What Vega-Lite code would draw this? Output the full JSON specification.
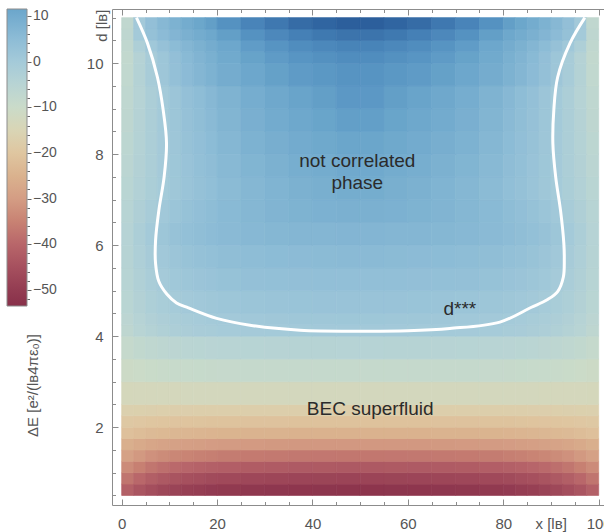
{
"$schema":"https://vega.github.io/schema/vega-lite/v6.json",
"width":492,"height":496,
"autosize":{"type":"none"},
"padding":{"left":112,"top":9,"right":0,"bottom":27},
"background":"white",
"config":{"view":{"stroke":null},"font":"Liberation Sans"},
"datasets":{
"grid":[
{"x":0,"x2":2.5,"d":0.5,"d2":0.75,"v":-41.4},{"x":2.5,"x2":5,"d":0.5,"d2":0.75,"v":-43.8},{"x":5,"x2":7.5,"d":0.5,"d2":0.75,"v":-45.6},{"x":7.5,"x2":10,"d":0.5,"d2":0.75,"v":-47},{"x":10,"x2":12.5,"d":0.5,"d2":0.75,"v":-48.1},{"x":12.5,"x2":15,"d":0.5,"d2":0.75,"v":-49},{"x":15,"x2":17.5,"d":0.5,"d2":0.75,"v":-49.6},{"x":17.5,"x2":20,"d":0.5,"d2":0.75,"v":-50.2},{"x":20,"x2":25,"d":0.5,"d2":0.75,"v":-50.7},{"x":25,"x2":30,"d":0.5,"d2":0.75,"v":-51.2},{"x":30,"x2":35,"d":0.5,"d2":0.75,"v":-51.5},{"x":35,"x2":40,"d":0.5,"d2":0.75,"v":-51.7},{"x":40,"x2":45,"d":0.5,"d2":0.75,"v":-51.8},{"x":45,"x2":50,"d":0.5,"d2":0.75,"v":-52},{"x":50,"x2":55,"d":0.5,"d2":0.75,"v":-52},{"x":55,"x2":60,"d":0.5,"d2":0.75,"v":-51.8},{"x":60,"x2":65,"d":0.5,"d2":0.75,"v":-51.7},{"x":65,"x2":70,"d":0.5,"d2":0.75,"v":-51.5},{"x":70,"x2":75,"d":0.5,"d2":0.75,"v":-51.2},{"x":75,"x2":80,"d":0.5,"d2":0.75,"v":-50.7},{"x":80,"x2":82.5,"d":0.5,"d2":0.75,"v":-50.2},{"x":82.5,"x2":85,"d":0.5,"d2":0.75,"v":-49.6},{"x":85,"x2":87.5,"d":0.5,"d2":0.75,"v":-49},{"x":87.5,"x2":90,"d":0.5,"d2":0.75,"v":-48.1},{"x":90,"x2":92.5,"d":0.5,"d2":0.75,"v":-47},{"x":92.5,"x2":95,"d":0.5,"d2":0.75,"v":-45.6},{"x":95,"x2":97.5,"d":0.5,"d2":0.75,"v":-43.8},{"x":97.5,"x2":100,"d":0.5,"d2":0.75,"v":-41.4},
{"x":0,"x2":2.5,"d":0.75,"d2":1,"v":-37.4},{"x":2.5,"x2":5,"d":0.75,"d2":1,"v":-39.8},{"x":5,"x2":7.5,"d":0.75,"d2":1,"v":-41.6},{"x":7.5,"x2":10,"d":0.75,"d2":1,"v":-43},{"x":10,"x2":12.5,"d":0.75,"d2":1,"v":-44.1},{"x":12.5,"x2":15,"d":0.75,"d2":1,"v":-45},{"x":15,"x2":17.5,"d":0.75,"d2":1,"v":-45.6},{"x":17.5,"x2":20,"d":0.75,"d2":1,"v":-46.2},{"x":20,"x2":25,"d":0.75,"d2":1,"v":-46.7},{"x":25,"x2":30,"d":0.75,"d2":1,"v":-47.2},{"x":30,"x2":35,"d":0.75,"d2":1,"v":-47.5},{"x":35,"x2":40,"d":0.75,"d2":1,"v":-47.7},{"x":40,"x2":45,"d":0.75,"d2":1,"v":-47.8},{"x":45,"x2":50,"d":0.75,"d2":1,"v":-48},{"x":50,"x2":55,"d":0.75,"d2":1,"v":-48},{"x":55,"x2":60,"d":0.75,"d2":1,"v":-47.8},{"x":60,"x2":65,"d":0.75,"d2":1,"v":-47.7},{"x":65,"x2":70,"d":0.75,"d2":1,"v":-47.5},{"x":70,"x2":75,"d":0.75,"d2":1,"v":-47.2},{"x":75,"x2":80,"d":0.75,"d2":1,"v":-46.7},{"x":80,"x2":82.5,"d":0.75,"d2":1,"v":-46.2},{"x":82.5,"x2":85,"d":0.75,"d2":1,"v":-45.6},{"x":85,"x2":87.5,"d":0.75,"d2":1,"v":-45},{"x":87.5,"x2":90,"d":0.75,"d2":1,"v":-44.1},{"x":90,"x2":92.5,"d":0.75,"d2":1,"v":-43},{"x":92.5,"x2":95,"d":0.75,"d2":1,"v":-41.6},{"x":95,"x2":97.5,"d":0.75,"d2":1,"v":-39.8},{"x":97.5,"x2":100,"d":0.75,"d2":1,"v":-37.4},
{"x":0,"x2":2.5,"d":1,"d2":1.25,"v":-33.3},{"x":2.5,"x2":5,"d":1,"d2":1.25,"v":-35.4},{"x":5,"x2":7.5,"d":1,"d2":1.25,"v":-37.1},{"x":7.5,"x2":10,"d":1,"d2":1.25,"v":-38.4},{"x":10,"x2":12.5,"d":1,"d2":1.25,"v":-39.4},{"x":12.5,"x2":15,"d":1,"d2":1.25,"v":-40.2},{"x":15,"x2":17.5,"d":1,"d2":1.25,"v":-40.8},{"x":17.5,"x2":20,"d":1,"d2":1.25,"v":-41.3},{"x":20,"x2":25,"d":1,"d2":1.25,"v":-41.8},{"x":25,"x2":30,"d":1,"d2":1.25,"v":-42.3},{"x":30,"x2":35,"d":1,"d2":1.25,"v":-42.6},{"x":35,"x2":40,"d":1,"d2":1.25,"v":-42.7},{"x":40,"x2":45,"d":1,"d2":1.25,"v":-42.8},{"x":45,"x2":50,"d":1,"d2":1.25,"v":-43},{"x":50,"x2":55,"d":1,"d2":1.25,"v":-43},{"x":55,"x2":60,"d":1,"d2":1.25,"v":-42.8},{"x":60,"x2":65,"d":1,"d2":1.25,"v":-42.7},{"x":65,"x2":70,"d":1,"d2":1.25,"v":-42.6},{"x":70,"x2":75,"d":1,"d2":1.25,"v":-42.3},{"x":75,"x2":80,"d":1,"d2":1.25,"v":-41.8},{"x":80,"x2":82.5,"d":1,"d2":1.25,"v":-41.3},{"x":82.5,"x2":85,"d":1,"d2":1.25,"v":-40.8},{"x":85,"x2":87.5,"d":1,"d2":1.25,"v":-40.2},{"x":87.5,"x2":90,"d":1,"d2":1.25,"v":-39.4},{"x":90,"x2":92.5,"d":1,"d2":1.25,"v":-38.4},{"x":92.5,"x2":95,"d":1,"d2":1.25,"v":-37.1},{"x":95,"x2":97.5,"d":1,"d2":1.25,"v":-35.4},{"x":97.5,"x2":100,"d":1,"d2":1.25,"v":-33.3},
{"x":0,"x2":2.5,"d":1.25,"d2":1.5,"v":-29.1},{"x":2.5,"x2":5,"d":1.25,"d2":1.5,"v":-30.8},{"x":5,"x2":7.5,"d":1.25,"d2":1.5,"v":-32.2},{"x":7.5,"x2":10,"d":1.25,"d2":1.5,"v":-33.2},{"x":10,"x2":12.5,"d":1.25,"d2":1.5,"v":-34.1},{"x":12.5,"x2":15,"d":1.25,"d2":1.5,"v":-34.7},{"x":15,"x2":17.5,"d":1.25,"d2":1.5,"v":-35.2},{"x":17.5,"x2":20,"d":1.25,"d2":1.5,"v":-35.6},{"x":20,"x2":25,"d":1.25,"d2":1.5,"v":-36.1},{"x":25,"x2":30,"d":1.25,"d2":1.5,"v":-36.4},{"x":30,"x2":35,"d":1.25,"d2":1.5,"v":-36.6},{"x":35,"x2":40,"d":1.25,"d2":1.5,"v":-36.8},{"x":40,"x2":45,"d":1.25,"d2":1.5,"v":-36.9},{"x":45,"x2":50,"d":1.25,"d2":1.5,"v":-37},{"x":50,"x2":55,"d":1.25,"d2":1.5,"v":-37},{"x":55,"x2":60,"d":1.25,"d2":1.5,"v":-36.9},{"x":60,"x2":65,"d":1.25,"d2":1.5,"v":-36.8},{"x":65,"x2":70,"d":1.25,"d2":1.5,"v":-36.6},{"x":70,"x2":75,"d":1.25,"d2":1.5,"v":-36.4},{"x":75,"x2":80,"d":1.25,"d2":1.5,"v":-36.1},{"x":80,"x2":82.5,"d":1.25,"d2":1.5,"v":-35.6},{"x":82.5,"x2":85,"d":1.25,"d2":1.5,"v":-35.2},{"x":85,"x2":87.5,"d":1.25,"d2":1.5,"v":-34.7},{"x":87.5,"x2":90,"d":1.25,"d2":1.5,"v":-34.1},{"x":90,"x2":92.5,"d":1.25,"d2":1.5,"v":-33.2},{"x":92.5,"x2":95,"d":1.25,"d2":1.5,"v":-32.2},{"x":95,"x2":97.5,"d":1.25,"d2":1.5,"v":-30.8},{"x":97.5,"x2":100,"d":1.25,"d2":1.5,"v":-29.1},
{"x":0,"x2":2.5,"d":1.5,"d2":1.75,"v":-25.7},{"x":2.5,"x2":5,"d":1.5,"d2":1.75,"v":-26.9},{"x":5,"x2":7.5,"d":1.5,"d2":1.75,"v":-27.8},{"x":7.5,"x2":10,"d":1.5,"d2":1.75,"v":-28.5},{"x":10,"x2":12.5,"d":1.5,"d2":1.75,"v":-29.1},{"x":12.5,"x2":15,"d":1.5,"d2":1.75,"v":-29.5},{"x":15,"x2":17.5,"d":1.5,"d2":1.75,"v":-29.8},{"x":17.5,"x2":20,"d":1.5,"d2":1.75,"v":-30.1},{"x":20,"x2":25,"d":1.5,"d2":1.75,"v":-30.4},{"x":25,"x2":30,"d":1.5,"d2":1.75,"v":-30.6},{"x":30,"x2":35,"d":1.5,"d2":1.75,"v":-30.8},{"x":35,"x2":40,"d":1.5,"d2":1.75,"v":-30.9},{"x":40,"x2":45,"d":1.5,"d2":1.75,"v":-30.9},{"x":45,"x2":50,"d":1.5,"d2":1.75,"v":-31},{"x":50,"x2":55,"d":1.5,"d2":1.75,"v":-31},{"x":55,"x2":60,"d":1.5,"d2":1.75,"v":-30.9},{"x":60,"x2":65,"d":1.5,"d2":1.75,"v":-30.9},{"x":65,"x2":70,"d":1.5,"d2":1.75,"v":-30.8},{"x":70,"x2":75,"d":1.5,"d2":1.75,"v":-30.6},{"x":75,"x2":80,"d":1.5,"d2":1.75,"v":-30.4},{"x":80,"x2":82.5,"d":1.5,"d2":1.75,"v":-30.1},{"x":82.5,"x2":85,"d":1.5,"d2":1.75,"v":-29.8},{"x":85,"x2":87.5,"d":1.5,"d2":1.75,"v":-29.5},{"x":87.5,"x2":90,"d":1.5,"d2":1.75,"v":-29.1},{"x":90,"x2":92.5,"d":1.5,"d2":1.75,"v":-28.5},{"x":92.5,"x2":95,"d":1.5,"d2":1.75,"v":-27.8},{"x":95,"x2":97.5,"d":1.5,"d2":1.75,"v":-26.9},{"x":97.5,"x2":100,"d":1.5,"d2":1.75,"v":-25.7},
{"x":0,"x2":2.5,"d":1.75,"d2":2,"v":-21.5},{"x":2.5,"x2":5,"d":1.75,"d2":2,"v":-22.3},{"x":5,"x2":7.5,"d":1.75,"d2":2,"v":-22.9},{"x":7.5,"x2":10,"d":1.75,"d2":2,"v":-23.3},{"x":10,"x2":12.5,"d":1.75,"d2":2,"v":-23.7},{"x":12.5,"x2":15,"d":1.75,"d2":2,"v":-24},{"x":15,"x2":17.5,"d":1.75,"d2":2,"v":-24.2},{"x":17.5,"x2":20,"d":1.75,"d2":2,"v":-24.4},{"x":20,"x2":25,"d":1.75,"d2":2,"v":-24.6},{"x":25,"x2":30,"d":1.75,"d2":2,"v":-24.7},{"x":30,"x2":35,"d":1.75,"d2":2,"v":-24.8},{"x":35,"x2":40,"d":1.75,"d2":2,"v":-24.9},{"x":40,"x2":45,"d":1.75,"d2":2,"v":-24.9},{"x":45,"x2":50,"d":1.75,"d2":2,"v":-25},{"x":50,"x2":55,"d":1.75,"d2":2,"v":-25},{"x":55,"x2":60,"d":1.75,"d2":2,"v":-24.9},{"x":60,"x2":65,"d":1.75,"d2":2,"v":-24.9},{"x":65,"x2":70,"d":1.75,"d2":2,"v":-24.8},{"x":70,"x2":75,"d":1.75,"d2":2,"v":-24.7},{"x":75,"x2":80,"d":1.75,"d2":2,"v":-24.6},{"x":80,"x2":82.5,"d":1.75,"d2":2,"v":-24.4},{"x":82.5,"x2":85,"d":1.75,"d2":2,"v":-24.2},{"x":85,"x2":87.5,"d":1.75,"d2":2,"v":-24},{"x":87.5,"x2":90,"d":1.75,"d2":2,"v":-23.7},{"x":90,"x2":92.5,"d":1.75,"d2":2,"v":-23.3},{"x":92.5,"x2":95,"d":1.75,"d2":2,"v":-22.9},{"x":95,"x2":97.5,"d":1.75,"d2":2,"v":-22.3},{"x":97.5,"x2":100,"d":1.75,"d2":2,"v":-21.5},
{"x":0,"x2":2.5,"d":2,"d2":2.25,"v":-19.2},{"x":2.5,"x2":5,"d":2,"d2":2.25,"v":-19.6},{"x":5,"x2":7.5,"d":2,"d2":2.25,"v":-19.9},{"x":7.5,"x2":10,"d":2,"d2":2.25,"v":-20.2},{"x":10,"x2":12.5,"d":2,"d2":2.25,"v":-20.4},{"x":12.5,"x2":15,"d":2,"d2":2.25,"v":-20.5},{"x":15,"x2":17.5,"d":2,"d2":2.25,"v":-20.6},{"x":17.5,"x2":20,"d":2,"d2":2.25,"v":-20.7},{"x":20,"x2":25,"d":2,"d2":2.25,"v":-20.8},{"x":25,"x2":30,"d":2,"d2":2.25,"v":-20.9},{"x":30,"x2":35,"d":2,"d2":2.25,"v":-20.9},{"x":35,"x2":40,"d":2,"d2":2.25,"v":-21},{"x":40,"x2":45,"d":2,"d2":2.25,"v":-21},{"x":45,"x2":50,"d":2,"d2":2.25,"v":-21},{"x":50,"x2":55,"d":2,"d2":2.25,"v":-21},{"x":55,"x2":60,"d":2,"d2":2.25,"v":-21},{"x":60,"x2":65,"d":2,"d2":2.25,"v":-21},{"x":65,"x2":70,"d":2,"d2":2.25,"v":-20.9},{"x":70,"x2":75,"d":2,"d2":2.25,"v":-20.9},{"x":75,"x2":80,"d":2,"d2":2.25,"v":-20.8},{"x":80,"x2":82.5,"d":2,"d2":2.25,"v":-20.7},{"x":82.5,"x2":85,"d":2,"d2":2.25,"v":-20.6},{"x":85,"x2":87.5,"d":2,"d2":2.25,"v":-20.5},{"x":87.5,"x2":90,"d":2,"d2":2.25,"v":-20.4},{"x":90,"x2":92.5,"d":2,"d2":2.25,"v":-20.2},{"x":92.5,"x2":95,"d":2,"d2":2.25,"v":-19.9},{"x":95,"x2":97.5,"d":2,"d2":2.25,"v":-19.6},{"x":97.5,"x2":100,"d":2,"d2":2.25,"v":-19.2},
{"x":0,"x2":2.5,"d":2.25,"d2":2.5,"v":-16.6},{"x":2.5,"x2":5,"d":2.25,"d2":2.5,"v":-16.8},{"x":5,"x2":7.5,"d":2.25,"d2":2.5,"v":-17},{"x":7.5,"x2":10,"d":2.25,"d2":2.5,"v":-17.1},{"x":10,"x2":12.5,"d":2.25,"d2":2.5,"v":-17.2},{"x":12.5,"x2":15,"d":2.25,"d2":2.5,"v":-17.2},{"x":15,"x2":17.5,"d":2.25,"d2":2.5,"v":-17.3},{"x":17.5,"x2":20,"d":2.25,"d2":2.5,"v":-17.3},{"x":20,"x2":25,"d":2.25,"d2":2.5,"v":-17.4},{"x":25,"x2":30,"d":2.25,"d2":2.5,"v":-17.4},{"x":30,"x2":35,"d":2.25,"d2":2.5,"v":-17.5},{"x":35,"x2":40,"d":2.25,"d2":2.5,"v":-17.5},{"x":40,"x2":45,"d":2.25,"d2":2.5,"v":-17.5},{"x":45,"x2":50,"d":2.25,"d2":2.5,"v":-17.5},{"x":50,"x2":55,"d":2.25,"d2":2.5,"v":-17.5},{"x":55,"x2":60,"d":2.25,"d2":2.5,"v":-17.5},{"x":60,"x2":65,"d":2.25,"d2":2.5,"v":-17.5},{"x":65,"x2":70,"d":2.25,"d2":2.5,"v":-17.5},{"x":70,"x2":75,"d":2.25,"d2":2.5,"v":-17.4},{"x":75,"x2":80,"d":2.25,"d2":2.5,"v":-17.4},{"x":80,"x2":82.5,"d":2.25,"d2":2.5,"v":-17.3},{"x":82.5,"x2":85,"d":2.25,"d2":2.5,"v":-17.3},{"x":85,"x2":87.5,"d":2.25,"d2":2.5,"v":-17.2},{"x":87.5,"x2":90,"d":2.25,"d2":2.5,"v":-17.2},{"x":90,"x2":92.5,"d":2.25,"d2":2.5,"v":-17.1},{"x":92.5,"x2":95,"d":2.25,"d2":2.5,"v":-17},{"x":95,"x2":97.5,"d":2.25,"d2":2.5,"v":-16.8},{"x":97.5,"x2":100,"d":2.25,"d2":2.5,"v":-16.6},
{"x":0,"x2":2.5,"d":2.5,"d2":3,"v":-13.4},{"x":2.5,"x2":5,"d":2.5,"d2":3,"v":-13.3},{"x":5,"x2":7.5,"d":2.5,"d2":3,"v":-13.3},{"x":7.5,"x2":10,"d":2.5,"d2":3,"v":-13.2},{"x":10,"x2":12.5,"d":2.5,"d2":3,"v":-13.2},{"x":12.5,"x2":15,"d":2.5,"d2":3,"v":-13.1},{"x":15,"x2":17.5,"d":2.5,"d2":3,"v":-13.1},{"x":17.5,"x2":20,"d":2.5,"d2":3,"v":-13.1},{"x":20,"x2":25,"d":2.5,"d2":3,"v":-13.1},{"x":25,"x2":30,"d":2.5,"d2":3,"v":-13},{"x":30,"x2":35,"d":2.5,"d2":3,"v":-13},{"x":35,"x2":40,"d":2.5,"d2":3,"v":-13},{"x":40,"x2":45,"d":2.5,"d2":3,"v":-13},{"x":45,"x2":50,"d":2.5,"d2":3,"v":-13},{"x":50,"x2":55,"d":2.5,"d2":3,"v":-13},{"x":55,"x2":60,"d":2.5,"d2":3,"v":-13},{"x":60,"x2":65,"d":2.5,"d2":3,"v":-13},{"x":65,"x2":70,"d":2.5,"d2":3,"v":-13},{"x":70,"x2":75,"d":2.5,"d2":3,"v":-13},{"x":75,"x2":80,"d":2.5,"d2":3,"v":-13.1},{"x":80,"x2":82.5,"d":2.5,"d2":3,"v":-13.1},{"x":82.5,"x2":85,"d":2.5,"d2":3,"v":-13.1},{"x":85,"x2":87.5,"d":2.5,"d2":3,"v":-13.1},{"x":87.5,"x2":90,"d":2.5,"d2":3,"v":-13.2},{"x":90,"x2":92.5,"d":2.5,"d2":3,"v":-13.2},{"x":92.5,"x2":95,"d":2.5,"d2":3,"v":-13.3},{"x":95,"x2":97.5,"d":2.5,"d2":3,"v":-13.3},{"x":97.5,"x2":100,"d":2.5,"d2":3,"v":-13.4},
{"x":0,"x2":2.5,"d":3,"d2":3.5,"v":-10.7},{"x":2.5,"x2":5,"d":3,"d2":3.5,"v":-10.2},{"x":5,"x2":7.5,"d":3,"d2":3.5,"v":-9.8},{"x":7.5,"x2":10,"d":3,"d2":3.5,"v":-9.5},{"x":10,"x2":12.5,"d":3,"d2":3.5,"v":-9.3},{"x":12.5,"x2":15,"d":3,"d2":3.5,"v":-9.1},{"x":15,"x2":17.5,"d":3,"d2":3.5,"v":-9},{"x":17.5,"x2":20,"d":3,"d2":3.5,"v":-8.9},{"x":20,"x2":25,"d":3,"d2":3.5,"v":-8.8},{"x":25,"x2":30,"d":3,"d2":3.5,"v":-8.7},{"x":30,"x2":35,"d":3,"d2":3.5,"v":-8.6},{"x":35,"x2":40,"d":3,"d2":3.5,"v":-8.6},{"x":40,"x2":45,"d":3,"d2":3.5,"v":-8.5},{"x":45,"x2":50,"d":3,"d2":3.5,"v":-8.5},{"x":50,"x2":55,"d":3,"d2":3.5,"v":-8.5},{"x":55,"x2":60,"d":3,"d2":3.5,"v":-8.5},{"x":60,"x2":65,"d":3,"d2":3.5,"v":-8.6},{"x":65,"x2":70,"d":3,"d2":3.5,"v":-8.6},{"x":70,"x2":75,"d":3,"d2":3.5,"v":-8.7},{"x":75,"x2":80,"d":3,"d2":3.5,"v":-8.8},{"x":80,"x2":82.5,"d":3,"d2":3.5,"v":-8.9},{"x":82.5,"x2":85,"d":3,"d2":3.5,"v":-9},{"x":85,"x2":87.5,"d":3,"d2":3.5,"v":-9.1},{"x":87.5,"x2":90,"d":3,"d2":3.5,"v":-9.3},{"x":90,"x2":92.5,"d":3,"d2":3.5,"v":-9.5},{"x":92.5,"x2":95,"d":3,"d2":3.5,"v":-9.8},{"x":95,"x2":97.5,"d":3,"d2":3.5,"v":-10.2},{"x":97.5,"x2":100,"d":3,"d2":3.5,"v":-10.7},
{"x":0,"x2":2.5,"d":3.5,"d2":4,"v":-8.5},{"x":2.5,"x2":5,"d":3.5,"d2":4,"v":-7.6},{"x":5,"x2":7.5,"d":3.5,"d2":4,"v":-6.9},{"x":7.5,"x2":10,"d":3.5,"d2":4,"v":-6.4},{"x":10,"x2":12.5,"d":3.5,"d2":4,"v":-6},{"x":12.5,"x2":15,"d":3.5,"d2":4,"v":-5.6},{"x":15,"x2":17.5,"d":3.5,"d2":4,"v":-5.4},{"x":17.5,"x2":20,"d":3.5,"d2":4,"v":-5.2},{"x":20,"x2":25,"d":3.5,"d2":4,"v":-5},{"x":25,"x2":30,"d":3.5,"d2":4,"v":-4.8},{"x":30,"x2":35,"d":3.5,"d2":4,"v":-4.7},{"x":35,"x2":40,"d":3.5,"d2":4,"v":-4.6},{"x":40,"x2":45,"d":3.5,"d2":4,"v":-4.6},{"x":45,"x2":50,"d":3.5,"d2":4,"v":-4.5},{"x":50,"x2":55,"d":3.5,"d2":4,"v":-4.5},{"x":55,"x2":60,"d":3.5,"d2":4,"v":-4.6},{"x":60,"x2":65,"d":3.5,"d2":4,"v":-4.6},{"x":65,"x2":70,"d":3.5,"d2":4,"v":-4.7},{"x":70,"x2":75,"d":3.5,"d2":4,"v":-4.8},{"x":75,"x2":80,"d":3.5,"d2":4,"v":-5},{"x":80,"x2":82.5,"d":3.5,"d2":4,"v":-5.2},{"x":82.5,"x2":85,"d":3.5,"d2":4,"v":-5.4},{"x":85,"x2":87.5,"d":3.5,"d2":4,"v":-5.6},{"x":87.5,"x2":90,"d":3.5,"d2":4,"v":-6},{"x":90,"x2":92.5,"d":3.5,"d2":4,"v":-6.4},{"x":92.5,"x2":95,"d":3.5,"d2":4,"v":-6.9},{"x":95,"x2":97.5,"d":3.5,"d2":4,"v":-7.6},{"x":97.5,"x2":100,"d":3.5,"d2":4,"v":-8.5},
{"x":0,"x2":2.5,"d":4,"d2":4.25,"v":-6.6},{"x":2.5,"x2":5,"d":4,"d2":4.25,"v":-5.1},{"x":5,"x2":7.5,"d":4,"d2":4.25,"v":-3.9},{"x":7.5,"x2":10,"d":4,"d2":4.25,"v":-3},{"x":10,"x2":12.5,"d":4,"d2":4.25,"v":-2.2},{"x":12.5,"x2":15,"d":4,"d2":4.25,"v":-1.7},{"x":15,"x2":17.5,"d":4,"d2":4.25,"v":-1.2},{"x":17.5,"x2":20,"d":4,"d2":4.25,"v":-0.9},{"x":20,"x2":25,"d":4,"d2":4.25,"v":-0.5},{"x":25,"x2":30,"d":4,"d2":4.25,"v":-0.2},{"x":30,"x2":35,"d":4,"d2":4.25,"v":0},{"x":35,"x2":40,"d":4,"d2":4.25,"v":0.1},{"x":40,"x2":45,"d":4,"d2":4.25,"v":0.2},{"x":45,"x2":50,"d":4,"d2":4.25,"v":0.3},{"x":50,"x2":55,"d":4,"d2":4.25,"v":0.3},{"x":55,"x2":60,"d":4,"d2":4.25,"v":0.2},{"x":60,"x2":65,"d":4,"d2":4.25,"v":0.1},{"x":65,"x2":70,"d":4,"d2":4.25,"v":0},{"x":70,"x2":75,"d":4,"d2":4.25,"v":-0.2},{"x":75,"x2":80,"d":4,"d2":4.25,"v":-0.5},{"x":80,"x2":82.5,"d":4,"d2":4.25,"v":-0.9},{"x":82.5,"x2":85,"d":4,"d2":4.25,"v":-1.2},{"x":85,"x2":87.5,"d":4,"d2":4.25,"v":-1.7},{"x":87.5,"x2":90,"d":4,"d2":4.25,"v":-2.2},{"x":90,"x2":92.5,"d":4,"d2":4.25,"v":-3},{"x":92.5,"x2":95,"d":4,"d2":4.25,"v":-3.9},{"x":95,"x2":97.5,"d":4,"d2":4.25,"v":-5.1},{"x":97.5,"x2":100,"d":4,"d2":4.25,"v":-6.6},
{"x":0,"x2":2.5,"d":4.25,"d2":4.5,"v":-6},{"x":2.5,"x2":5,"d":4.25,"d2":4.5,"v":-4.4},{"x":5,"x2":7.5,"d":4.25,"d2":4.5,"v":-3.2},{"x":7.5,"x2":10,"d":4.25,"d2":4.5,"v":-2.2},{"x":10,"x2":12.5,"d":4.25,"d2":4.5,"v":-1.5},{"x":12.5,"x2":15,"d":4.25,"d2":4.5,"v":-0.9},{"x":15,"x2":17.5,"d":4.25,"d2":4.5,"v":-0.4},{"x":17.5,"x2":20,"d":4.25,"d2":4.5,"v":-0.1},{"x":20,"x2":25,"d":4.25,"d2":4.5,"v":0.3},{"x":25,"x2":30,"d":4.25,"d2":4.5,"v":0.7},{"x":30,"x2":35,"d":4.25,"d2":4.5,"v":0.9},{"x":35,"x2":40,"d":4.25,"d2":4.5,"v":1},{"x":40,"x2":45,"d":4.25,"d2":4.5,"v":1.1},{"x":45,"x2":50,"d":4.25,"d2":4.5,"v":1.2},{"x":50,"x2":55,"d":4.25,"d2":4.5,"v":1.2},{"x":55,"x2":60,"d":4.25,"d2":4.5,"v":1.1},{"x":60,"x2":65,"d":4.25,"d2":4.5,"v":1},{"x":65,"x2":70,"d":4.25,"d2":4.5,"v":0.9},{"x":70,"x2":75,"d":4.25,"d2":4.5,"v":0.7},{"x":75,"x2":80,"d":4.25,"d2":4.5,"v":0.3},{"x":80,"x2":82.5,"d":4.25,"d2":4.5,"v":-0.1},{"x":82.5,"x2":85,"d":4.25,"d2":4.5,"v":-0.4},{"x":85,"x2":87.5,"d":4.25,"d2":4.5,"v":-0.9},{"x":87.5,"x2":90,"d":4.25,"d2":4.5,"v":-1.5},{"x":90,"x2":92.5,"d":4.25,"d2":4.5,"v":-2.2},{"x":92.5,"x2":95,"d":4.25,"d2":4.5,"v":-3.2},{"x":95,"x2":97.5,"d":4.25,"d2":4.5,"v":-4.4},{"x":97.5,"x2":100,"d":4.25,"d2":4.5,"v":-6},
{"x":0,"x2":2.5,"d":4.5,"d2":5,"v":-5.4},{"x":2.5,"x2":5,"d":4.5,"d2":5,"v":-3.7},{"x":5,"x2":7.5,"d":4.5,"d2":5,"v":-2.3},{"x":7.5,"x2":10,"d":4.5,"d2":5,"v":-1.3},{"x":10,"x2":12.5,"d":4.5,"d2":5,"v":-0.4},{"x":12.5,"x2":15,"d":4.5,"d2":5,"v":0.2},{"x":15,"x2":17.5,"d":4.5,"d2":5,"v":0.7},{"x":17.5,"x2":20,"d":4.5,"d2":5,"v":1.1},{"x":20,"x2":25,"d":4.5,"d2":5,"v":1.6},{"x":25,"x2":30,"d":4.5,"d2":5,"v":1.9},{"x":30,"x2":35,"d":4.5,"d2":5,"v":2.1},{"x":35,"x2":40,"d":4.5,"d2":5,"v":2.3},{"x":40,"x2":45,"d":4.5,"d2":5,"v":2.4},{"x":45,"x2":50,"d":4.5,"d2":5,"v":2.5},{"x":50,"x2":55,"d":4.5,"d2":5,"v":2.5},{"x":55,"x2":60,"d":4.5,"d2":5,"v":2.4},{"x":60,"x2":65,"d":4.5,"d2":5,"v":2.3},{"x":65,"x2":70,"d":4.5,"d2":5,"v":2.1},{"x":70,"x2":75,"d":4.5,"d2":5,"v":1.9},{"x":75,"x2":80,"d":4.5,"d2":5,"v":1.6},{"x":80,"x2":82.5,"d":4.5,"d2":5,"v":1.1},{"x":82.5,"x2":85,"d":4.5,"d2":5,"v":0.7},{"x":85,"x2":87.5,"d":4.5,"d2":5,"v":0.2},{"x":87.5,"x2":90,"d":4.5,"d2":5,"v":-0.4},{"x":90,"x2":92.5,"d":4.5,"d2":5,"v":-1.3},{"x":92.5,"x2":95,"d":4.5,"d2":5,"v":-2.3},{"x":95,"x2":97.5,"d":4.5,"d2":5,"v":-3.7},{"x":97.5,"x2":100,"d":4.5,"d2":5,"v":-5.4},
{"x":0,"x2":2.5,"d":5,"d2":5.5,"v":-4.8},{"x":2.5,"x2":5,"d":5,"d2":5.5,"v":-2.9},{"x":5,"x2":7.5,"d":5,"d2":5.5,"v":-1.4},{"x":7.5,"x2":10,"d":5,"d2":5.5,"v":-0.2},{"x":10,"x2":12.5,"d":5,"d2":5.5,"v":0.8},{"x":12.5,"x2":15,"d":5,"d2":5.5,"v":1.5},{"x":15,"x2":17.5,"d":5,"d2":5.5,"v":2},{"x":17.5,"x2":20,"d":5,"d2":5.5,"v":2.5},{"x":20,"x2":25,"d":5,"d2":5.5,"v":3},{"x":25,"x2":30,"d":5,"d2":5.5,"v":3.4},{"x":30,"x2":35,"d":5,"d2":5.5,"v":3.6},{"x":35,"x2":40,"d":5,"d2":5.5,"v":3.8},{"x":40,"x2":45,"d":5,"d2":5.5,"v":3.9},{"x":45,"x2":50,"d":5,"d2":5.5,"v":4},{"x":50,"x2":55,"d":5,"d2":5.5,"v":4},{"x":55,"x2":60,"d":5,"d2":5.5,"v":3.9},{"x":60,"x2":65,"d":5,"d2":5.5,"v":3.8},{"x":65,"x2":70,"d":5,"d2":5.5,"v":3.6},{"x":70,"x2":75,"d":5,"d2":5.5,"v":3.4},{"x":75,"x2":80,"d":5,"d2":5.5,"v":3},{"x":80,"x2":82.5,"d":5,"d2":5.5,"v":2.5},{"x":82.5,"x2":85,"d":5,"d2":5.5,"v":2},{"x":85,"x2":87.5,"d":5,"d2":5.5,"v":1.5},{"x":87.5,"x2":90,"d":5,"d2":5.5,"v":0.8},{"x":90,"x2":92.5,"d":5,"d2":5.5,"v":-0.2},{"x":92.5,"x2":95,"d":5,"d2":5.5,"v":-1.4},{"x":95,"x2":97.5,"d":5,"d2":5.5,"v":-2.9},{"x":97.5,"x2":100,"d":5,"d2":5.5,"v":-4.8},
{"x":0,"x2":2.5,"d":5.5,"d2":6,"v":-4.6},{"x":2.5,"x2":5,"d":5.5,"d2":6,"v":-2.4},{"x":5,"x2":7.5,"d":5.5,"d2":6,"v":-0.7},{"x":7.5,"x2":10,"d":5.5,"d2":6,"v":0.7},{"x":10,"x2":12.5,"d":5.5,"d2":6,"v":1.8},{"x":12.5,"x2":15,"d":5.5,"d2":6,"v":2.6},{"x":15,"x2":17.5,"d":5.5,"d2":6,"v":3.2},{"x":17.5,"x2":20,"d":5.5,"d2":6,"v":3.7},{"x":20,"x2":25,"d":5.5,"d2":6,"v":4.3},{"x":25,"x2":30,"d":5.5,"d2":6,"v":4.8},{"x":30,"x2":35,"d":5.5,"d2":6,"v":5.1},{"x":35,"x2":40,"d":5.5,"d2":6,"v":5.2},{"x":40,"x2":45,"d":5.5,"d2":6,"v":5.3},{"x":45,"x2":50,"d":5.5,"d2":6,"v":5.5},{"x":50,"x2":55,"d":5.5,"d2":6,"v":5.5},{"x":55,"x2":60,"d":5.5,"d2":6,"v":5.3},{"x":60,"x2":65,"d":5.5,"d2":6,"v":5.2},{"x":65,"x2":70,"d":5.5,"d2":6,"v":5.1},{"x":70,"x2":75,"d":5.5,"d2":6,"v":4.8},{"x":75,"x2":80,"d":5.5,"d2":6,"v":4.3},{"x":80,"x2":82.5,"d":5.5,"d2":6,"v":3.7},{"x":82.5,"x2":85,"d":5.5,"d2":6,"v":3.2},{"x":85,"x2":87.5,"d":5.5,"d2":6,"v":2.6},{"x":87.5,"x2":90,"d":5.5,"d2":6,"v":1.8},{"x":90,"x2":92.5,"d":5.5,"d2":6,"v":0.7},{"x":92.5,"x2":95,"d":5.5,"d2":6,"v":-0.7},{"x":95,"x2":97.5,"d":5.5,"d2":6,"v":-2.4},{"x":97.5,"x2":100,"d":5.5,"d2":6,"v":-4.6},
{"x":0,"x2":2.5,"d":6,"d2":6.5,"v":-4.5},{"x":2.5,"x2":5,"d":6,"d2":6.5,"v":-1.9},{"x":5,"x2":7.5,"d":6,"d2":6.5,"v":0},{"x":7.5,"x2":10,"d":6,"d2":6.5,"v":1.6},{"x":10,"x2":12.5,"d":6,"d2":6.5,"v":2.8},{"x":12.5,"x2":15,"d":6,"d2":6.5,"v":3.7},{"x":15,"x2":17.5,"d":6,"d2":6.5,"v":4.4},{"x":17.5,"x2":20,"d":6,"d2":6.5,"v":5},{"x":20,"x2":25,"d":6,"d2":6.5,"v":5.6},{"x":25,"x2":30,"d":6,"d2":6.5,"v":6.2},{"x":30,"x2":35,"d":6,"d2":6.5,"v":6.5},{"x":35,"x2":40,"d":6,"d2":6.5,"v":6.7},{"x":40,"x2":45,"d":6,"d2":6.5,"v":6.8},{"x":45,"x2":50,"d":6,"d2":6.5,"v":7},{"x":50,"x2":55,"d":6,"d2":6.5,"v":7},{"x":55,"x2":60,"d":6,"d2":6.5,"v":6.8},{"x":60,"x2":65,"d":6,"d2":6.5,"v":6.7},{"x":65,"x2":70,"d":6,"d2":6.5,"v":6.5},{"x":70,"x2":75,"d":6,"d2":6.5,"v":6.2},{"x":75,"x2":80,"d":6,"d2":6.5,"v":5.6},{"x":80,"x2":82.5,"d":6,"d2":6.5,"v":5},{"x":82.5,"x2":85,"d":6,"d2":6.5,"v":4.4},{"x":85,"x2":87.5,"d":6,"d2":6.5,"v":3.7},{"x":87.5,"x2":90,"d":6,"d2":6.5,"v":2.8},{"x":90,"x2":92.5,"d":6,"d2":6.5,"v":1.6},{"x":92.5,"x2":95,"d":6,"d2":6.5,"v":0},{"x":95,"x2":97.5,"d":6,"d2":6.5,"v":-1.9},{"x":97.5,"x2":100,"d":6,"d2":6.5,"v":-4.5},
{"x":0,"x2":2.5,"d":6.5,"d2":7,"v":-4.8},{"x":2.5,"x2":5,"d":6.5,"d2":7,"v":-2.7},{"x":5,"x2":7.5,"d":6.5,"d2":7,"v":-0.9},{"x":7.5,"x2":10,"d":6.5,"d2":7,"v":0.6},{"x":10,"x2":12.5,"d":6.5,"d2":7,"v":1.9},{"x":12.5,"x2":15,"d":6.5,"d2":7,"v":3},{"x":15,"x2":17.5,"d":6.5,"d2":7,"v":3.9},{"x":17.5,"x2":20,"d":6.5,"d2":7,"v":4.7},{"x":20,"x2":25,"d":6.5,"d2":7,"v":5.7},{"x":25,"x2":30,"d":6.5,"d2":7,"v":6.6},{"x":30,"x2":35,"d":6.5,"d2":7,"v":7.3},{"x":35,"x2":40,"d":6.5,"d2":7,"v":7.8},{"x":40,"x2":45,"d":6.5,"d2":7,"v":8.2},{"x":45,"x2":50,"d":6.5,"d2":7,"v":8.5},{"x":50,"x2":55,"d":6.5,"d2":7,"v":8.5},{"x":55,"x2":60,"d":6.5,"d2":7,"v":8.2},{"x":60,"x2":65,"d":6.5,"d2":7,"v":7.8},{"x":65,"x2":70,"d":6.5,"d2":7,"v":7.3},{"x":70,"x2":75,"d":6.5,"d2":7,"v":6.6},{"x":75,"x2":80,"d":6.5,"d2":7,"v":5.7},{"x":80,"x2":82.5,"d":6.5,"d2":7,"v":4.7},{"x":82.5,"x2":85,"d":6.5,"d2":7,"v":3.9},{"x":85,"x2":87.5,"d":6.5,"d2":7,"v":3},{"x":87.5,"x2":90,"d":6.5,"d2":7,"v":1.9},{"x":90,"x2":92.5,"d":6.5,"d2":7,"v":0.6},{"x":92.5,"x2":95,"d":6.5,"d2":7,"v":-0.9},{"x":95,"x2":97.5,"d":6.5,"d2":7,"v":-2.7},{"x":97.5,"x2":100,"d":6.5,"d2":7,"v":-4.8},
{"x":0,"x2":2.5,"d":7,"d2":7.5,"v":-5.4},{"x":2.5,"x2":5,"d":7,"d2":7.5,"v":-3.5},{"x":5,"x2":7.5,"d":7,"d2":7.5,"v":-1.8},{"x":7.5,"x2":10,"d":7,"d2":7.5,"v":-0.3},{"x":10,"x2":12.5,"d":7,"d2":7.5,"v":1},{"x":12.5,"x2":15,"d":7,"d2":7.5,"v":2.2},{"x":15,"x2":17.5,"d":7,"d2":7.5,"v":3.2},{"x":17.5,"x2":20,"d":7,"d2":7.5,"v":4.1},{"x":20,"x2":25,"d":7,"d2":7.5,"v":5.3},{"x":25,"x2":30,"d":7,"d2":7.5,"v":6.5},{"x":30,"x2":35,"d":7,"d2":7.5,"v":7.5},{"x":35,"x2":40,"d":7,"d2":7.5,"v":8.3},{"x":40,"x2":45,"d":7,"d2":7.5,"v":8.9},{"x":45,"x2":50,"d":7,"d2":7.5,"v":9.5},{"x":50,"x2":55,"d":7,"d2":7.5,"v":9.5},{"x":55,"x2":60,"d":7,"d2":7.5,"v":8.9},{"x":60,"x2":65,"d":7,"d2":7.5,"v":8.3},{"x":65,"x2":70,"d":7,"d2":7.5,"v":7.5},{"x":70,"x2":75,"d":7,"d2":7.5,"v":6.5},{"x":75,"x2":80,"d":7,"d2":7.5,"v":5.3},{"x":80,"x2":82.5,"d":7,"d2":7.5,"v":4.1},{"x":82.5,"x2":85,"d":7,"d2":7.5,"v":3.2},{"x":85,"x2":87.5,"d":7,"d2":7.5,"v":2.2},{"x":87.5,"x2":90,"d":7,"d2":7.5,"v":1},{"x":90,"x2":92.5,"d":7,"d2":7.5,"v":-0.3},{"x":92.5,"x2":95,"d":7,"d2":7.5,"v":-1.8},{"x":95,"x2":97.5,"d":7,"d2":7.5,"v":-3.5},{"x":97.5,"x2":100,"d":7,"d2":7.5,"v":-5.4},
{"x":0,"x2":2.5,"d":7.5,"d2":8,"v":-5.8},{"x":2.5,"x2":5,"d":7.5,"d2":8,"v":-3.7},{"x":5,"x2":7.5,"d":7.5,"d2":8,"v":-1.9},{"x":7.5,"x2":10,"d":7.5,"d2":8,"v":-0.2},{"x":10,"x2":12.5,"d":7.5,"d2":8,"v":1.2},{"x":12.5,"x2":15,"d":7.5,"d2":8,"v":2.5},{"x":15,"x2":17.5,"d":7.5,"d2":8,"v":3.6},{"x":17.5,"x2":20,"d":7.5,"d2":8,"v":4.6},{"x":20,"x2":25,"d":7.5,"d2":8,"v":5.9},{"x":25,"x2":30,"d":7.5,"d2":8,"v":7.2},{"x":30,"x2":35,"d":7.5,"d2":8,"v":8.3},{"x":35,"x2":40,"d":7.5,"d2":8,"v":9.2},{"x":40,"x2":45,"d":7.5,"d2":8,"v":9.8},{"x":45,"x2":50,"d":7.5,"d2":8,"v":10.5},{"x":50,"x2":55,"d":7.5,"d2":8,"v":10.5},{"x":55,"x2":60,"d":7.5,"d2":8,"v":9.8},{"x":60,"x2":65,"d":7.5,"d2":8,"v":9.2},{"x":65,"x2":70,"d":7.5,"d2":8,"v":8.3},{"x":70,"x2":75,"d":7.5,"d2":8,"v":7.2},{"x":75,"x2":80,"d":7.5,"d2":8,"v":5.9},{"x":80,"x2":82.5,"d":7.5,"d2":8,"v":4.6},{"x":82.5,"x2":85,"d":7.5,"d2":8,"v":3.6},{"x":85,"x2":87.5,"d":7.5,"d2":8,"v":2.5},{"x":87.5,"x2":90,"d":7.5,"d2":8,"v":1.2},{"x":90,"x2":92.5,"d":7.5,"d2":8,"v":-0.2},{"x":92.5,"x2":95,"d":7.5,"d2":8,"v":-1.9},{"x":95,"x2":97.5,"d":7.5,"d2":8,"v":-3.7},{"x":97.5,"x2":100,"d":7.5,"d2":8,"v":-5.8},
{"x":0,"x2":2.5,"d":8,"d2":8.5,"v":-6.2},{"x":2.5,"x2":5,"d":8,"d2":8.5,"v":-4},{"x":5,"x2":7.5,"d":8,"d2":8.5,"v":-1.9},{"x":7.5,"x2":10,"d":8,"d2":8.5,"v":-0.2},{"x":10,"x2":12.5,"d":8,"d2":8.5,"v":1.4},{"x":12.5,"x2":15,"d":8,"d2":8.5,"v":2.8},{"x":15,"x2":17.5,"d":8,"d2":8.5,"v":4},{"x":17.5,"x2":20,"d":8,"d2":8.5,"v":5.1},{"x":20,"x2":25,"d":8,"d2":8.5,"v":6.5},{"x":25,"x2":30,"d":8,"d2":8.5,"v":8},{"x":30,"x2":35,"d":8,"d2":8.5,"v":9.1},{"x":35,"x2":40,"d":8,"d2":8.5,"v":10},{"x":40,"x2":45,"d":8,"d2":8.5,"v":10.7},{"x":45,"x2":50,"d":8,"d2":8.5,"v":11.5},{"x":50,"x2":55,"d":8,"d2":8.5,"v":11.5},{"x":55,"x2":60,"d":8,"d2":8.5,"v":10.7},{"x":60,"x2":65,"d":8,"d2":8.5,"v":10},{"x":65,"x2":70,"d":8,"d2":8.5,"v":9.1},{"x":70,"x2":75,"d":8,"d2":8.5,"v":8},{"x":75,"x2":80,"d":8,"d2":8.5,"v":6.5},{"x":80,"x2":82.5,"d":8,"d2":8.5,"v":5.1},{"x":82.5,"x2":85,"d":8,"d2":8.5,"v":4},{"x":85,"x2":87.5,"d":8,"d2":8.5,"v":2.8},{"x":87.5,"x2":90,"d":8,"d2":8.5,"v":1.4},{"x":90,"x2":92.5,"d":8,"d2":8.5,"v":-0.2},{"x":92.5,"x2":95,"d":8,"d2":8.5,"v":-1.9},{"x":95,"x2":97.5,"d":8,"d2":8.5,"v":-4},{"x":97.5,"x2":100,"d":8,"d2":8.5,"v":-6.2},
{"x":0,"x2":2.5,"d":8.5,"d2":9,"v":-6.6},{"x":2.5,"x2":5,"d":8.5,"d2":9,"v":-4.2},{"x":5,"x2":7.5,"d":8.5,"d2":9,"v":-2},{"x":7.5,"x2":10,"d":8.5,"d2":9,"v":-0.1},{"x":10,"x2":12.5,"d":8.5,"d2":9,"v":1.6},{"x":12.5,"x2":15,"d":8.5,"d2":9,"v":3.1},{"x":15,"x2":17.5,"d":8.5,"d2":9,"v":4.4},{"x":17.5,"x2":20,"d":8.5,"d2":9,"v":5.6},{"x":20,"x2":25,"d":8.5,"d2":9,"v":7.1},{"x":25,"x2":30,"d":8.5,"d2":9,"v":8.7},{"x":30,"x2":35,"d":8.5,"d2":9,"v":9.9},{"x":35,"x2":40,"d":8.5,"d2":9,"v":10.9},{"x":40,"x2":45,"d":8.5,"d2":9,"v":11.7},{"x":45,"x2":50,"d":8.5,"d2":9,"v":12.5},{"x":50,"x2":55,"d":8.5,"d2":9,"v":12.5},{"x":55,"x2":60,"d":8.5,"d2":9,"v":11.7},{"x":60,"x2":65,"d":8.5,"d2":9,"v":10.9},{"x":65,"x2":70,"d":8.5,"d2":9,"v":9.9},{"x":70,"x2":75,"d":8.5,"d2":9,"v":8.7},{"x":75,"x2":80,"d":8.5,"d2":9,"v":7.1},{"x":80,"x2":82.5,"d":8.5,"d2":9,"v":5.6},{"x":82.5,"x2":85,"d":8.5,"d2":9,"v":4.4},{"x":85,"x2":87.5,"d":8.5,"d2":9,"v":3.1},{"x":87.5,"x2":90,"d":8.5,"d2":9,"v":1.6},{"x":90,"x2":92.5,"d":8.5,"d2":9,"v":-0.1},{"x":92.5,"x2":95,"d":8.5,"d2":9,"v":-2},{"x":95,"x2":97.5,"d":8.5,"d2":9,"v":-4.2},{"x":97.5,"x2":100,"d":8.5,"d2":9,"v":-6.6},
{"x":0,"x2":2.5,"d":9,"d2":9.5,"v":-7},{"x":2.5,"x2":5,"d":9,"d2":9.5,"v":-4.4},{"x":5,"x2":7.5,"d":9,"d2":9.5,"v":-2.1},{"x":7.5,"x2":10,"d":9,"d2":9.5,"v":0},{"x":10,"x2":12.5,"d":9,"d2":9.5,"v":1.8},{"x":12.5,"x2":15,"d":9,"d2":9.5,"v":3.4},{"x":15,"x2":17.5,"d":9,"d2":9.5,"v":4.8},{"x":17.5,"x2":20,"d":9,"d2":9.5,"v":6.1},{"x":20,"x2":25,"d":9,"d2":9.5,"v":7.7},{"x":25,"x2":30,"d":9,"d2":9.5,"v":9.4},{"x":30,"x2":35,"d":9,"d2":9.5,"v":10.8},{"x":35,"x2":40,"d":9,"d2":9.5,"v":11.8},{"x":40,"x2":45,"d":9,"d2":9.5,"v":12.6},{"x":45,"x2":50,"d":9,"d2":9.5,"v":13.5},{"x":50,"x2":55,"d":9,"d2":9.5,"v":13.5},{"x":55,"x2":60,"d":9,"d2":9.5,"v":12.6},{"x":60,"x2":65,"d":9,"d2":9.5,"v":11.8},{"x":65,"x2":70,"d":9,"d2":9.5,"v":10.8},{"x":70,"x2":75,"d":9,"d2":9.5,"v":9.4},{"x":75,"x2":80,"d":9,"d2":9.5,"v":7.7},{"x":80,"x2":82.5,"d":9,"d2":9.5,"v":6.1},{"x":82.5,"x2":85,"d":9,"d2":9.5,"v":4.8},{"x":85,"x2":87.5,"d":9,"d2":9.5,"v":3.4},{"x":87.5,"x2":90,"d":9,"d2":9.5,"v":1.8},{"x":90,"x2":92.5,"d":9,"d2":9.5,"v":0},{"x":92.5,"x2":95,"d":9,"d2":9.5,"v":-2.1},{"x":95,"x2":97.5,"d":9,"d2":9.5,"v":-4.4},{"x":97.5,"x2":100,"d":9,"d2":9.5,"v":-7},
{"x":0,"x2":2.5,"d":9.5,"d2":10,"v":-7.5},{"x":2.5,"x2":5,"d":9.5,"d2":10,"v":-4.1},{"x":5,"x2":7.5,"d":9.5,"d2":10,"v":-1.1},{"x":7.5,"x2":10,"d":9.5,"d2":10,"v":1.4},{"x":10,"x2":12.5,"d":9.5,"d2":10,"v":3.5},{"x":12.5,"x2":15,"d":9.5,"d2":10,"v":5.2},{"x":15,"x2":17.5,"d":9.5,"d2":10,"v":6.8},{"x":17.5,"x2":20,"d":9.5,"d2":10,"v":8},{"x":20,"x2":25,"d":9.5,"d2":10,"v":9.6},{"x":25,"x2":30,"d":9.5,"d2":10,"v":11.1},{"x":30,"x2":35,"d":9.5,"d2":10,"v":12.3},{"x":35,"x2":40,"d":9.5,"d2":10,"v":13.1},{"x":40,"x2":45,"d":9.5,"d2":10,"v":13.6},{"x":45,"x2":50,"d":9.5,"d2":10,"v":14.2},{"x":50,"x2":55,"d":9.5,"d2":10,"v":14.2},{"x":55,"x2":60,"d":9.5,"d2":10,"v":13.6},{"x":60,"x2":65,"d":9.5,"d2":10,"v":13.1},{"x":65,"x2":70,"d":9.5,"d2":10,"v":12.3},{"x":70,"x2":75,"d":9.5,"d2":10,"v":11.1},{"x":75,"x2":80,"d":9.5,"d2":10,"v":9.6},{"x":80,"x2":82.5,"d":9.5,"d2":10,"v":8},{"x":82.5,"x2":85,"d":9.5,"d2":10,"v":6.8},{"x":85,"x2":87.5,"d":9.5,"d2":10,"v":5.2},{"x":87.5,"x2":90,"d":9.5,"d2":10,"v":3.5},{"x":90,"x2":92.5,"d":9.5,"d2":10,"v":1.4},{"x":92.5,"x2":95,"d":9.5,"d2":10,"v":-1.1},{"x":95,"x2":97.5,"d":9.5,"d2":10,"v":-4.1},{"x":97.5,"x2":100,"d":9.5,"d2":10,"v":-7.5},
{"x":0,"x2":2.5,"d":10,"d2":10.25,"v":-7.9},{"x":2.5,"x2":5,"d":10,"d2":10.25,"v":-4.2},{"x":5,"x2":7.5,"d":10,"d2":10.25,"v":-1.1},{"x":7.5,"x2":10,"d":10,"d2":10.25,"v":1.5},{"x":10,"x2":12.5,"d":10,"d2":10.25,"v":3.8},{"x":12.5,"x2":15,"d":10,"d2":10.25,"v":5.7},{"x":15,"x2":17.5,"d":10,"d2":10.25,"v":7.3},{"x":17.5,"x2":20,"d":10,"d2":10.25,"v":8.6},{"x":20,"x2":25,"d":10,"d2":10.25,"v":10.3},{"x":25,"x2":30,"d":10,"d2":10.25,"v":12},{"x":30,"x2":35,"d":10,"d2":10.25,"v":13.1},{"x":35,"x2":40,"d":10,"d2":10.25,"v":14},{"x":40,"x2":45,"d":10,"d2":10.25,"v":14.6},{"x":45,"x2":50,"d":10,"d2":10.25,"v":15.2},{"x":50,"x2":55,"d":10,"d2":10.25,"v":15.2},{"x":55,"x2":60,"d":10,"d2":10.25,"v":14.6},{"x":60,"x2":65,"d":10,"d2":10.25,"v":14},{"x":65,"x2":70,"d":10,"d2":10.25,"v":13.1},{"x":70,"x2":75,"d":10,"d2":10.25,"v":12},{"x":75,"x2":80,"d":10,"d2":10.25,"v":10.3},{"x":80,"x2":82.5,"d":10,"d2":10.25,"v":8.6},{"x":82.5,"x2":85,"d":10,"d2":10.25,"v":7.3},{"x":85,"x2":87.5,"d":10,"d2":10.25,"v":5.7},{"x":87.5,"x2":90,"d":10,"d2":10.25,"v":3.8},{"x":90,"x2":92.5,"d":10,"d2":10.25,"v":1.5},{"x":92.5,"x2":95,"d":10,"d2":10.25,"v":-1.1},{"x":95,"x2":97.5,"d":10,"d2":10.25,"v":-4.2},{"x":97.5,"x2":100,"d":10,"d2":10.25,"v":-7.9},
{"x":0,"x2":2.5,"d":10.25,"d2":10.5,"v":-7.3},{"x":2.5,"x2":5,"d":10.25,"d2":10.5,"v":-2.4},{"x":5,"x2":7.5,"d":10.25,"d2":10.5,"v":0.8},{"x":7.5,"x2":10,"d":10.25,"d2":10.5,"v":3.1},{"x":10,"x2":12.5,"d":10.25,"d2":10.5,"v":5.1},{"x":12.5,"x2":15,"d":10.25,"d2":10.5,"v":6.8},{"x":15,"x2":17.5,"d":10.25,"d2":10.5,"v":8.3},{"x":17.5,"x2":20,"d":10.25,"d2":10.5,"v":9.6},{"x":20,"x2":25,"d":10.25,"d2":10.5,"v":11.2},{"x":25,"x2":30,"d":10.25,"d2":10.5,"v":12.9},{"x":30,"x2":35,"d":10.25,"d2":10.5,"v":14.2},{"x":35,"x2":40,"d":10.25,"d2":10.5,"v":15.2},{"x":40,"x2":45,"d":10.25,"d2":10.5,"v":15.9},{"x":45,"x2":50,"d":10.25,"d2":10.5,"v":16.5},{"x":50,"x2":55,"d":10.25,"d2":10.5,"v":16.5},{"x":55,"x2":60,"d":10.25,"d2":10.5,"v":15.9},{"x":60,"x2":65,"d":10.25,"d2":10.5,"v":15.2},{"x":65,"x2":70,"d":10.25,"d2":10.5,"v":14.2},{"x":70,"x2":75,"d":10.25,"d2":10.5,"v":12.9},{"x":75,"x2":80,"d":10.25,"d2":10.5,"v":11.2},{"x":80,"x2":82.5,"d":10.25,"d2":10.5,"v":9.6},{"x":82.5,"x2":85,"d":10.25,"d2":10.5,"v":8.3},{"x":85,"x2":87.5,"d":10.25,"d2":10.5,"v":6.8},{"x":87.5,"x2":90,"d":10.25,"d2":10.5,"v":5.1},{"x":90,"x2":92.5,"d":10.25,"d2":10.5,"v":3.1},{"x":92.5,"x2":95,"d":10.25,"d2":10.5,"v":0.8},{"x":95,"x2":97.5,"d":10.25,"d2":10.5,"v":-2.4},{"x":97.5,"x2":100,"d":10.25,"d2":10.5,"v":-7.3},
{"x":0,"x2":2.5,"d":10.5,"d2":10.75,"v":-6.6},{"x":2.5,"x2":5,"d":10.5,"d2":10.75,"v":-0.1},{"x":5,"x2":7.5,"d":10.5,"d2":10.75,"v":3.2},{"x":7.5,"x2":10,"d":10.5,"d2":10.75,"v":5.2},{"x":10,"x2":12.5,"d":10.5,"d2":10.75,"v":7},{"x":12.5,"x2":15,"d":10.5,"d2":10.75,"v":8.5},{"x":15,"x2":17.5,"d":10.5,"d2":10.75,"v":9.8},{"x":17.5,"x2":20,"d":10.5,"d2":10.75,"v":11},{"x":20,"x2":25,"d":10.5,"d2":10.75,"v":12.6},{"x":25,"x2":30,"d":10.5,"d2":10.75,"v":14.4},{"x":30,"x2":35,"d":10.5,"d2":10.75,"v":15.8},{"x":35,"x2":40,"d":10.5,"d2":10.75,"v":17},{"x":40,"x2":45,"d":10.5,"d2":10.75,"v":17.9},{"x":45,"x2":50,"d":10.5,"d2":10.75,"v":18.5},{"x":50,"x2":55,"d":10.5,"d2":10.75,"v":18.5},{"x":55,"x2":60,"d":10.5,"d2":10.75,"v":17.9},{"x":60,"x2":65,"d":10.5,"d2":10.75,"v":17},{"x":65,"x2":70,"d":10.5,"d2":10.75,"v":15.8},{"x":70,"x2":75,"d":10.5,"d2":10.75,"v":14.4},{"x":75,"x2":80,"d":10.5,"d2":10.75,"v":12.6},{"x":80,"x2":82.5,"d":10.5,"d2":10.75,"v":11},{"x":82.5,"x2":85,"d":10.5,"d2":10.75,"v":9.8},{"x":85,"x2":87.5,"d":10.5,"d2":10.75,"v":8.5},{"x":87.5,"x2":90,"d":10.5,"d2":10.75,"v":7},{"x":90,"x2":92.5,"d":10.5,"d2":10.75,"v":5.2},{"x":92.5,"x2":95,"d":10.5,"d2":10.75,"v":3.2},{"x":95,"x2":97.5,"d":10.5,"d2":10.75,"v":-0.1},{"x":97.5,"x2":100,"d":10.5,"d2":10.75,"v":-6.6},
{"x":0,"x2":2.5,"d":10.75,"d2":11,"v":-7.1},{"x":2.5,"x2":5,"d":10.75,"d2":11,"v":0.2},{"x":5,"x2":7.5,"d":10.75,"d2":11,"v":3.8},{"x":7.5,"x2":10,"d":10.75,"d2":11,"v":6.2},{"x":10,"x2":12.5,"d":10.75,"d2":11,"v":8.1},{"x":12.5,"x2":15,"d":10.75,"d2":11,"v":9.8},{"x":15,"x2":17.5,"d":10.75,"d2":11,"v":11.3},{"x":17.5,"x2":20,"d":10.75,"d2":11,"v":12.6},{"x":20,"x2":25,"d":10.75,"d2":11,"v":14.4},{"x":25,"x2":30,"d":10.75,"d2":11,"v":16.4},{"x":30,"x2":35,"d":10.75,"d2":11,"v":18},{"x":35,"x2":40,"d":10.75,"d2":11,"v":19.4},{"x":40,"x2":45,"d":10.75,"d2":11,"v":20.3},{"x":45,"x2":50,"d":10.75,"d2":11,"v":21},{"x":50,"x2":55,"d":10.75,"d2":11,"v":21},{"x":55,"x2":60,"d":10.75,"d2":11,"v":20.3},{"x":60,"x2":65,"d":10.75,"d2":11,"v":19.4},{"x":65,"x2":70,"d":10.75,"d2":11,"v":18},{"x":70,"x2":75,"d":10.75,"d2":11,"v":16.4},{"x":75,"x2":80,"d":10.75,"d2":11,"v":14.4},{"x":80,"x2":82.5,"d":10.75,"d2":11,"v":12.6},{"x":82.5,"x2":85,"d":10.75,"d2":11,"v":11.3},{"x":85,"x2":87.5,"d":10.75,"d2":11,"v":9.8},{"x":87.5,"x2":90,"d":10.75,"d2":11,"v":8.1},{"x":90,"x2":92.5,"d":10.75,"d2":11,"v":6.2},{"x":92.5,"x2":95,"d":10.75,"d2":11,"v":3.8},{"x":95,"x2":97.5,"d":10.75,"d2":11,"v":0.2},{"x":97.5,"x2":100,"d":10.75,"d2":11,"v":-7.1}
],
"contour":[
{"k":1,"x":3.1,"d":11},{"k":2,"x":5.4,"d":10.44},{"k":3,"x":7.5,"d":9.69},{"k":4,"x":8.7,"d":8.97},{"k":5,"x":9.4,"d":8.24},{"k":6,"x":8.9,"d":7.5},{"k":7,"x":7.8,"d":6.77},{"k":8,"x":7.1,"d":6.1},{"k":9,"x":7.1,"d":5.6},{"k":10,"x":7.8,"d":5.2},{"k":11,"x":9.5,"d":4.92},{"k":12,"x":11.5,"d":4.73},{"k":13,"x":14,"d":4.62},{"k":14,"x":19.9,"d":4.39},{"k":15,"x":26.9,"d":4.24},{"k":16,"x":37.4,"d":4.13},{"k":17,"x":50,"d":4.11},{"k":18,"x":60,"d":4.12},{"k":19,"x":68.8,"d":4.17},{"k":20,"x":79.3,"d":4.31},{"k":21,"x":85.8,"d":4.63},{"k":22,"x":89.2,"d":4.8},{"k":23,"x":91.4,"d":4.98},{"k":24,"x":92.6,"d":5.3},{"k":25,"x":92.8,"d":5.7},{"k":26,"x":92.7,"d":6.04},{"k":27,"x":92,"d":6.77},{"k":28,"x":91,"d":7.49},{"k":29,"x":90.4,"d":8.24},{"k":30,"x":90.6,"d":8.97},{"k":31,"x":91.4,"d":9.69},{"k":32,"x":94,"d":10.44},{"k":33,"x":97.1,"d":11}
],
"labels":[
{"x":49.4,"d":7.72,"label":"not correlated"},{"x":49.4,"d":7.24,"label":"phase"},{"x":52.1,"d":2.26,"label":"BEC superfluid"},{"x":70.9,"d":4.46,"label":"d***"}
]
},
"resolve":{"scale":{"color":"independent","y":"independent"},"axis":{"x":"independent","y":"independent"}},
"layer":[
{
"data":{"name":"grid"},
"mark":{"type":"rect","strokeWidth":0.7},
"encoding":{
"x":{"field":"x","type":"quantitative","scale":{"domain":[-2.03,101.12],"nice":false,"zero":false},
"axis":{"orient":"bottom","values":[0,20,40,60,80,100],"tickSize":-6,"labelPadding":17,"labelFontSize":15,"labelColor":"#555555","labelFont":"Liberation Sans","labelFlush":false,"labelOverlap":false,"labelBound":false,"domainColor":"#8c8c8c","tickColor":"#8c8c8c","grid":false,"zindex":1,"title":"x [lʙ]","titleX":423,"titleY":23,"titleAlign":"left","titleBaseline":"alphabetic","titleFontSize":15,"titleFontWeight":"normal","titleColor":"#555555","titleFont":"Liberation Sans"}},
"x2":{"field":"x2"},
"y":{"field":"d","type":"quantitative","scale":{"domain":[0.29,11.19],"nice":false,"zero":false},
"axis":{"orient":"left","values":[2,4,6,8,10],"tickSize":-6,"labelPadding":15,"labelFontSize":15,"labelColor":"#555555","labelFont":"Liberation Sans","labelOverlap":false,"labelBound":false,"labelFlush":false,"domainColor":"#8c8c8c","tickColor":"#8c8c8c","grid":false,"zindex":1,"title":"d [lʙ]","titleAngle":270,"titleX":-6,"titleY":0,"titleAlign":"right","titleBaseline":"alphabetic","titleFontSize":15,"titleFontWeight":"normal","titleColor":"#555555","titleFont":"Liberation Sans"}},
"y2":{"field":"d2"},
"color":{"field":"v","type":"quantitative","legend":null,"scale":{"interpolate":"rgb","domain":[-53.5,-50,-45,-40,-35,-30,-25,-20,-15,-10,-5,0,5,11.5,14,17,21],"range":["#88304a","#933c52","#a6505e","#b8666a","#c88273","#d49d84","#dab28e","#dfc6a0","#d9d5b5","#cadbc9","#b8d4d4","#a4cad9","#8dbcd6","#6ba6cb","#5895c3","#4580b6","#2c5f9c"]}},
"stroke":{"field":"v","type":"quantitative","legend":null,"scale":{"interpolate":"rgb","domain":[-53.5,-50,-45,-40,-35,-30,-25,-20,-15,-10,-5,0,5,11.5,14,17,21],"range":["#88304a","#933c52","#a6505e","#b8666a","#c88273","#d49d84","#dab28e","#dfc6a0","#d9d5b5","#cadbc9","#b8d4d4","#a4cad9","#8dbcd6","#6ba6cb","#5895c3","#4580b6","#2c5f9c"]}}
}
},
{
"data":{"name":"contour"},
"mark":{"type":"line","color":"white","strokeWidth":3,"interpolate":"catmull-rom"},
"encoding":{
"x":{"field":"x","type":"quantitative","scale":{"domain":[-2.03,101.12],"nice":false,"zero":false},
"axis":{"orient":"top","values":[0,20,40,60,80,100],"tickSize":-6,"labels":false,"domainColor":"#8c8c8c","tickColor":"#8c8c8c","grid":false,"zindex":1,"title":null}},
"y":{"field":"d","type":"quantitative","scale":{"domain":[0.29,11.19],"nice":false,"zero":false},
"axis":{"orient":"left","values":[0.5,1,1.5,2.5,3,3.5,4.5,5,5.5,6.5,7,7.5,8.5,9,9.5,10.5,11],"tickSize":-3.5,"labels":false,"domain":false,"tickColor":"#8c8c8c","grid":false,"zindex":1,"title":null}},
"order":{"field":"k","type":"quantitative"}
}
},
{
"data":{"name":"labels"},
"mark":{"type":"text","fontSize":19,"color":"#2b2b2b","align":"center","baseline":"alphabetic","font":"Liberation Sans"},
"encoding":{
"x":{"field":"x","type":"quantitative","scale":{"domain":[-2.03,101.12],"nice":false,"zero":false},
"axis":{"orient":"bottom","values":[5,10,15,25,30,35,45,50,55,65,70,75,85,90,95],"tickSize":-3.5,"labels":false,"domain":false,"tickColor":"#8c8c8c","grid":false,"zindex":1,"title":null}},
"y":{"field":"d","type":"quantitative","scale":{"domain":[0.29,11.19],"nice":false,"zero":false},"axis":null},
"text":{"field":"label"}
}
},
{
"data":{"name":"grid"},
"mark":{"type":"text"},
"encoding":{
"x":{"field":"x","type":"quantitative","scale":{"domain":[-2.03,101.12],"nice":false,"zero":false},
"axis":{"orient":"top","values":[5,10,15,25,30,35,45,50,55,65,70,75,85,90,95],"tickSize":-3.5,"labels":false,"domain":false,"tickColor":"#8c8c8c","grid":false,"zindex":1,"title":null}},
"y":{"field":"v","type":"quantitative","scale":{"domain":[-97.05,11.5],"nice":false,"zero":false},
"axis":{"orient":"left","offset":85,"values":[-50,-40,-30,-20,-10,0,10],"tickSize":-4,"tickColor":"#666666","domain":false,"labels":false,"grid":false,"zindex":1,"title":"ΔE [e²/(lʙ4πε₀)]","titleAngle":270,"titleX":10.5,"titleY":376,"titleAlign":"center","titleBaseline":"alphabetic","titleFontSize":15,"titleFontWeight":"normal","titleColor":"#555555","titleFont":"Liberation Sans"}},
"text":{"value":""},
"color":{"field":"v","type":"quantitative","scale":{"interpolate":"rgb","domain":[-53.5,-50,-45,-40,-35,-30,-25,-20,-15,-10,-5,0,5,11.5],"range":["#88304a","#933c52","#a6505e","#b8666a","#c88273","#d49d84","#dab28e","#dfc6a0","#d9d5b5","#cadbc9","#b8d4d4","#a4cad9","#8dbcd6","#6ba6cb"]},
"legend":{"orient":"none","legendX":-105,"legendY":0,"direction":"vertical","padding":0,"gradientLength":297,"gradientThickness":20,"gradientStrokeColor":"#8c8c8c","gradientStrokeWidth":1,"values":[-50,-40,-30,-20,-10,0,10],"labelFontSize":14,"labelColor":"#555555","labelFont":"Liberation Sans","labelOffset":6,"labelOverlap":false,"title":null}}
}
},
{
"data":{"name":"grid"},
"mark":{"type":"text"},
"encoding":{
"y":{"field":"v","type":"quantitative","scale":{"domain":[-97.05,11.5],"nice":false,"zero":false},
"axis":{"orient":"left","offset":85,"values":[-52,-48,-46,-44,-42,-38,-36,-34,-32,-28,-26,-24,-22,-18,-16,-14,-12,-8,-6,-4,-2,2,4,6,8],"tickSize":-2.5,"tickColor":"#666666","domain":false,"labels":false,"grid":false,"zindex":1,"title":null}},
"text":{"value":""}
}
}
]
}
